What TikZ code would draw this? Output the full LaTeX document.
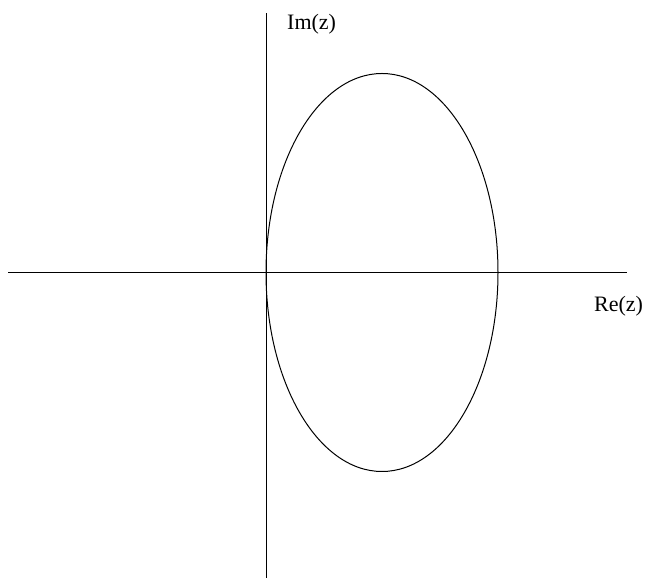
\documentclass[tikz,border=0pt]{standalone}
\usepackage{fontspec}
\setmainfont{Liberation Serif}
\begin{document}
\begin{tikzpicture}[x=1pt,y=1pt,
  axis/.style={line width=1pt},
  curve/.style={line width=1pt},
  lbl/.style={anchor=base west,inner sep=0pt,font=\fontsize{22}{26}\selectfont}]
\useasboundingbox (0,0) rectangle (648,578);
\coordinate (xl) at (8,305.5);
\coordinate (xr) at (627,305.5);
\coordinate (yt) at (266,565);
\coordinate (yb) at (266,0);
\draw[axis] (xl) -- (xr);
\draw[axis] (yb) -- (yt);
\draw[curve] (382,305.5) ellipse [x radius=116, y radius=199];
\node[lbl] (im) at (287,548.5) {Im(z)};
\node[lbl] (re) at (594,266) {Re(z)};
\end{tikzpicture}
\end{document}
